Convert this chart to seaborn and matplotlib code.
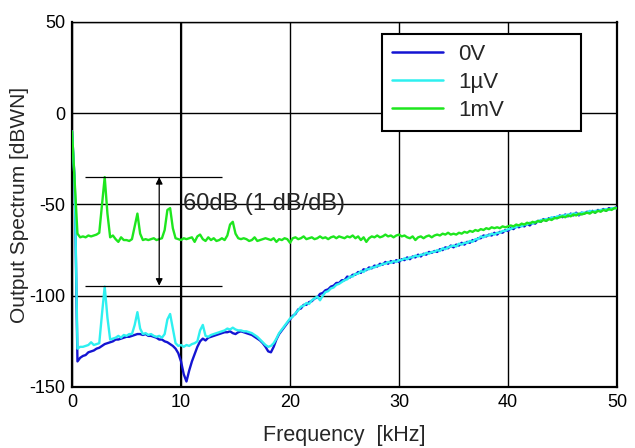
import numpy as np
import pandas as pd
import matplotlib
matplotlib.use("Agg")
import matplotlib.pyplot as plt
import seaborn as sns

# Output spectrum of the modulator for three DC input levels,
# sampled every 0.25 kHz from 0 to 50 kHz (values in dBWN).
freq_khz = np.linspace(0.0, 50.0, 201)

level_0v = [
    -10, -38, -136, -134, -133, -132.5, -131, -130.5, -130, -129, -128.5, -127.5, -126.5, -126, -125.5, -125, -124, -124, -123.5, -123,
    -122.5, -122.5, -122, -121.5, -121, -121, -121.5, -121, -122, -122, -122.5, -123, -124, -124, -125, -125.5, -126.5, -127.5, -129, -131.5,
    -136, -143, -147, -141, -136, -132, -128, -125, -123.5, -124.5, -123, -122.5, -122, -121.5, -121, -120.5, -120, -120, -119.5, -120.5,
    -121, -120, -119.5, -120, -120.5, -121, -121.5, -122.5, -123.5, -124.5, -126, -128, -130.5, -131, -128, -124, -121, -119, -117, -115,
    -113, -111, -110, -107.5, -107, -105, -105, -103.5, -103, -101.5, -101, -99, -98.5, -97, -96.5, -95, -94.5, -93, -93, -91.5,
    -91.5, -89.5, -90, -88.5, -88.5, -87, -87.5, -85.5, -86, -84.5, -85, -83.5, -84, -82.5, -83, -81.5, -82.5, -81, -82, -80.5,
    -81.5, -80, -80.5, -79, -80, -78.5, -79, -77.5, -78.5, -77, -77.5, -76, -76.5, -75.5, -76, -74.5, -75, -73.5, -74, -72.5,
    -73.5, -72, -72.5, -71, -72, -70.5, -71, -69.5, -70, -68.5, -68.5, -67, -67.5, -66.5, -67, -65.5, -66.5, -65, -65.5, -64,
    -64.5, -63, -63.5, -62, -62.5, -61.5, -62, -60.5, -61.5, -60, -60.5, -59, -59.5, -58, -59, -57.5, -58, -57, -57.5, -56,
    -57, -55.5, -56.5, -55, -56, -54.5, -56, -54.5, -55, -54, -54.5, -53.5, -54.5, -53, -53.5, -52.5, -53.5, -52, -52.5, -52,
    -51.5,
]

level_1uv = [
    -10, -38, -129, -128, -128, -127.5, -127, -125.5, -127, -126.5, -126, -110, -95, -112, -124, -123.5, -123, -122, -123, -121.5,
    -122, -121, -121, -116, -109, -118, -121, -120.5, -121.5, -121, -122, -122.5, -122, -123, -121, -113, -110, -118, -126, -127.5,
    -127, -128, -127, -127.5, -126.5, -126, -125, -119, -116, -122, -122.5, -121.5, -121, -120.5, -120, -119.5, -119, -118, -118.5, -117.5,
    -118.5, -119, -119, -119.5, -119.5, -120, -120.5, -121.5, -122.5, -124, -125.5, -127, -128, -127.5, -126, -123.5, -120.5, -118.5, -116.5, -114.5,
    -112.5, -111.5, -109.5, -108, -106, -105.5, -104, -104.5, -102.5, -101.5, -100.5, -102.5, -100, -98, -97.5, -96, -95.5, -94, -93.5, -92.5,
    -91.5, -91, -89.5, -89.5, -88, -88, -86.5, -87, -85.5, -85.5, -84.5, -84.5, -83.5, -83.5, -82.5, -82.5, -81.5, -82, -81, -81.5,
    -80.5, -80.5, -79.5, -80, -79, -79, -78, -78.5, -77.5, -77.5, -76.5, -77, -76, -76, -75, -75.5, -74, -74.5, -73.5, -73,
    -72.5, -73, -71.5, -72, -71, -71, -70, -70.5, -69, -69, -67.5, -68, -67, -67, -66, -66.5, -65.5, -65.5, -64.5, -64.5,
    -63.5, -63.5, -62.5, -62.5, -61.5, -62, -61, -61, -60, -60.5, -59.5, -59.5, -58.5, -58.5, -58, -58, -57, -57.5, -56.5, -56.5,
    -56, -56, -55.5, -55.5, -55, -55, -55.5, -54.5, -54.5, -54.5, -53.5, -54, -53.5, -53.5, -53, -53, -52.5, -53, -52, -52,
    -52,
]

level_1mv = [
    -10, -38, -66, -68, -67.5, -68, -67, -67.5, -67, -66.5, -65.5, -50, -35, -55, -68, -67, -69, -70.5, -68, -69.5,
    -69.5, -70, -69, -62, -55, -66, -69.5, -69, -69.5, -69, -68.5, -69.5, -69, -68.5, -64, -53, -52, -63, -68.5, -69,
    -69.5, -68.5, -69, -68.5, -68, -70.5, -67.5, -66.5, -69, -70, -68, -69.5, -68.5, -70, -69.5, -68.5, -69.5, -67, -61, -59.5,
    -66, -68.5, -69, -68.5, -69, -70, -69.5, -68, -70, -69.5, -69, -68.5, -69, -69.5, -68.5, -70.5, -69, -69.5, -68.5, -69,
    -71, -68.5, -68, -69, -68.5, -67.5, -69, -68.5, -68, -69, -68.5, -67.5, -68.5, -68, -69, -68, -67.5, -68.5, -67.5, -68,
    -68.5, -67.5, -68, -67, -68.5, -67.5, -69.5, -68, -70.5, -68.5, -67.5, -68, -67, -68, -67.5, -66.5, -67.5, -67, -68, -67,
    -66.5, -67.5, -67, -68, -68.5, -67.5, -69.5, -68, -67.5, -68.5, -67.5, -67, -68, -67, -66.5, -67, -66, -66.5, -65.5, -66.5,
    -66, -66.5, -65.5, -66, -65, -65.5, -64.5, -65, -64, -64.5, -63.5, -64, -63, -63.5, -62.5, -63, -62.5, -63, -62, -62.5,
    -62, -61.5, -62, -61, -61.5, -60.5, -61, -60, -60.5, -59.5, -60, -59, -59.5, -58.5, -59, -58, -58.5, -57.5, -57.5, -57,
    -56.5, -57, -56, -56.5, -55.5, -56, -55, -55.5, -55, -54.5, -55, -54, -54.5, -53.5, -54, -53, -53.5, -52.5, -53, -52,
    -52,
]

series_labels = ["0V", "1\u00b5V", "1mV"]
series_colors = ["#1414d2", "#2ef0f0", "#1ee61e"]

x_ticks = [0, 10, 20, 30, 40, 50]
y_ticks = [-150, -100, -50, 0, 50]

# 60 dB span marker between the 1 µV and 1 mV tones
span_top = -35
span_bottom = -94.5
span_text = "60dB (1 dB/dB)"

df = pd.concat(
    [
        pd.DataFrame({"freq": freq_khz, "level": vals, "input": lab})
        for vals, lab in zip([level_0v, level_1uv, level_1mv], series_labels)
    ],
    ignore_index=True,
)

sns.set_style("white")
plt.rcParams["font.family"] = ["Liberation Sans", "DejaVu Sans"]
plt.rcParams["axes.unicode_minus"] = False

fig, ax = plt.subplots(figsize=(6.35, 4.48), dpi=100)
fig.subplots_adjust(left=0.1134, right=0.9717, top=0.951, bottom=0.1362)

sns.lineplot(
    data=df, x="freq", y="level", hue="input",
    hue_order=series_labels, palette=series_colors,
    estimator=None, sort=False, linewidth=1.7, ax=ax, zorder=3,
)

ax.set_xlim(0, 50)
ax.set_ylim(-150, 50)
ax.set_xticks(x_ticks)
ax.set_yticks(y_ticks)
ax.grid(True, color="black", linewidth=1.0)
ax.axvline(10, color="black", linewidth=1.5, zorder=1)
ax.tick_params(length=0, pad=5, labelsize=13, colors="black")
for side, sp in ax.spines.items():
    sp.set_color("black")
    sp.set_linewidth(1.0 if side == "top" else 1.6)

ax.set_xlabel("Frequency  [kHz]", fontsize=15.5, labelpad=10)
ax.set_ylabel("Output Spectrum [dBWN]", fontsize=15, labelpad=0)

ax.hlines([span_top, span_bottom], 1.15, 13.8, color="black", linewidth=0.9, zorder=4)
ax.annotate(
    "", xy=(8, span_top), xytext=(8, span_bottom),
    arrowprops=dict(arrowstyle="<|-|>", color="black", lw=0.9,
                    mutation_scale=10, shrinkA=0, shrinkB=0),
    zorder=4,
)
ax.text(10.2, -49.5, span_text, fontsize=17, va="center", ha="left", zorder=5)

leg = ax.legend(
    loc="upper left", bbox_to_anchor=(0.568, 0.704, 0.366, 0.263),
    mode="expand", fancybox=False, edgecolor="black", framealpha=1,
    fontsize=16, handlelength=2.3, handletextpad=0.7,
    borderpad=0.45, labelspacing=0.32, borderaxespad=0,
)
leg.get_frame().set_linewidth(1.5)
for line in leg.get_lines():
    line.set_linewidth(1.8)

fig.savefig("out.png", dpi=100)
